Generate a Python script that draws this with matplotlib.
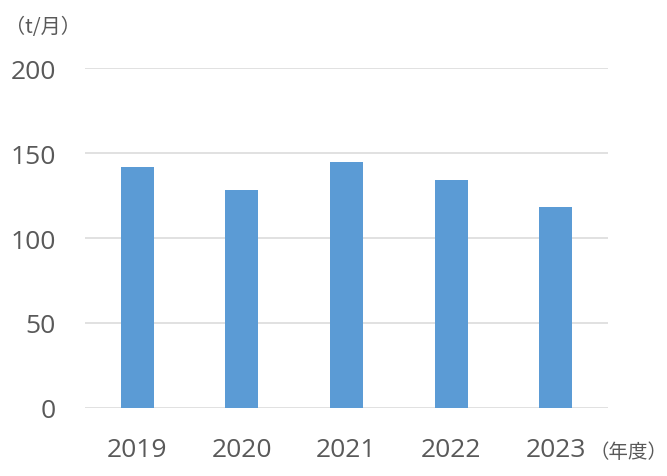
import matplotlib
matplotlib.use('Agg')
import matplotlib.pyplot as plt

# data
years = ['2019', '2020', '2021', '2022', '2023']
values = [142, 128, 145, 134, 118]
yticks = [0, 50, 100, 150, 200]

plt.rcParams['font.family'] = ['Open Sans', 'Noto Sans CJK JP', 'DejaVu Sans']

fig = plt.figure(figsize=(6.67, 4.77), dpi=100)
ax = fig.add_axes([0.1274, 0.1426, 0.7841, 0.7127])

ax.bar(range(len(years)), values, width=0.315, color='#5b9bd5', zorder=3)
ax.set_xlim(-0.5, len(years) - 0.5)
ax.set_ylim(0, 200)
ax.set_yticks(yticks)
ax.set_xticks(range(len(years)))
ax.set_xticklabels(years)

for y in yticks:
    ax.axhline(y, color='#d9d9d9', lw=1.1, zorder=1)
for s in ax.spines.values():
    s.set_visible(False)
ax.tick_params(axis='both', length=0, labelsize=19, colors='#595959')
ax.tick_params(axis='y', pad=21)
ax.tick_params(axis='x', pad=21)

fig.text(0.008, 0.942, '（t/月）', fontsize=14.5, color='#595959',
         family=['Noto Sans CJK JP', 'DejaVu Sans'], va='center')
fig.text(0.884, 0.052, '（年度）', fontsize=14, color='#595959',
         family=['Noto Sans CJK JP', 'DejaVu Sans'], va='center')

fig.savefig('out.png', dpi=100)
